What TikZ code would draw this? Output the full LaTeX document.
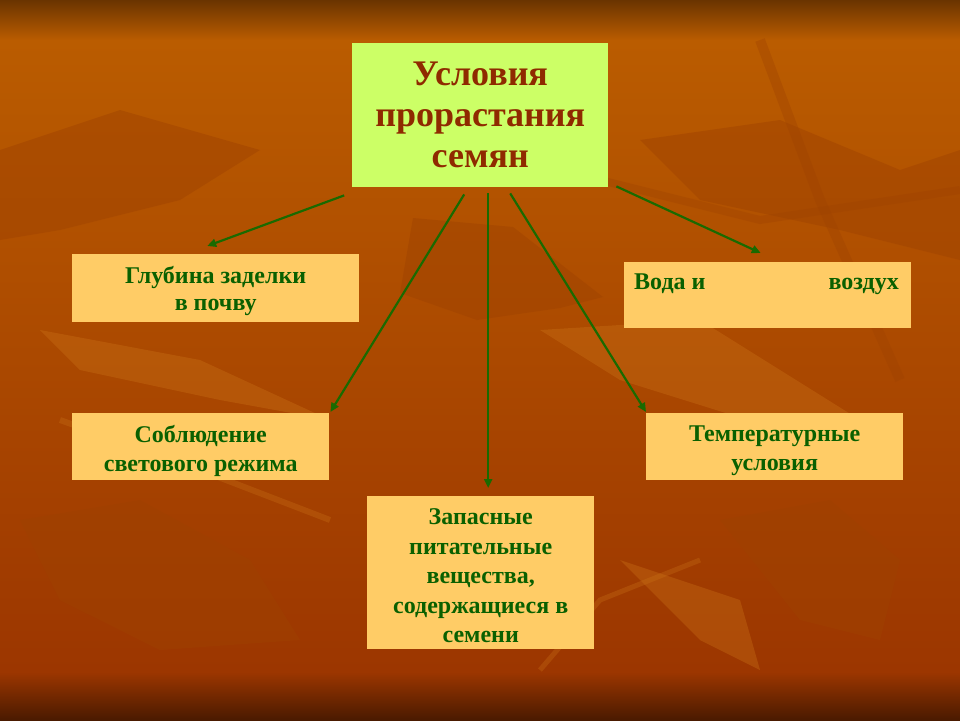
\documentclass[tikz,border=0pt]{standalone}
\usepackage{fontspec}
\setmainfont{Liberation Serif}
\usetikzlibrary{arrows.meta,calc}
\definecolor{bgtop}{HTML}{6A3400}
\definecolor{bgmid}{HTML}{BA5C00}
\definecolor{bglow}{HTML}{9C3600}
\definecolor{bgbot}{HTML}{4A1A00}
\definecolor{leafdark}{HTML}{9E4200}
\definecolor{leaflight}{HTML}{CC7418}
\definecolor{titlebg}{HTML}{CCFF66}
\definecolor{titletxt}{HTML}{8F2A00}
\definecolor{boxbg}{HTML}{FFCC66}
\definecolor{boxtxt}{HTML}{0A6000}
\definecolor{arrowcol}{HTML}{1A6A00}
\tikzset{
  titlebox/.style={fill=titlebg, draw=none, inner sep=0pt, anchor=north west, align=center,
    text=titletxt, font=\fontsize{36}{41}\selectfont\bfseries},
  infobox/.style={fill=boxbg, draw=none, inner sep=0pt, anchor=north west},
  boxtext/.style={inner sep=0pt, align=center, text=boxtxt, font=\fontsize{24}{#1}\selectfont\bfseries},
  boxtext/.default=27,
  arr/.style={draw=arrowcol, line width=2.2pt, -{Triangle[length=9pt,width=8pt]}},
  leafA/.style={fill=leafdark, opacity=0.45, draw=none},
  leafB/.style={fill=leaflight, opacity=0.35, draw=none}
}
\begin{document}
\begin{tikzpicture}[x=1pt,y=-1pt]
% background
\useasboundingbox (0,0) rectangle (960,720);
\shade[top color=bgtop, bottom color=bgmid] (0,0) rectangle (960,40);
\shade[top color=bgmid, bottom color=bglow] (0,40) rectangle (960,672);
\shade[top color=bglow, bottom color=bgbot] (0,672) rectangle (960,720);
% faint leaf shapes
\fill[leafA] (413,218) -- (513,227) -- (603,297) -- (560,308) -- (477,320) -- (400,293) -- cycle;
\fill[leafA] (0,150) -- (120,110) -- (260,150) -- (180,200) -- (60,230) -- (0,240) -- cycle;
\fill[leafA] (640,140) -- (780,120) -- (900,170) -- (960,150) -- (960,260) -- (840,230) -- (700,200) -- cycle;
\fill[leafA] (20,520) -- (140,500) -- (250,560) -- (300,640) -- (160,650) -- (60,600) -- cycle;
\fill[leafA] (720,520) -- (830,500) -- (900,560) -- (880,640) -- (800,620) -- cycle;
\fill[leafB] (540,330) -- (700,320) -- (860,420) -- (780,430) -- (620,380) -- cycle;
\fill[leafB] (40,330) -- (200,360) -- (330,420) -- (220,400) -- (80,370) -- cycle;
\fill[leafB] (620,560) -- (740,600) -- (760,670) -- (700,640) -- cycle;
\draw[draw=leafdark, line width=10pt, opacity=0.35] (760,40) -- (820,200) -- (900,380);
\draw[draw=leafdark, line width=8pt, opacity=0.35] (600,180) -- (760,220) -- (960,190);
\draw[draw=leaflight, line width=6pt, opacity=0.3] (60,420) -- (200,470) -- (330,520);
\draw[draw=leaflight, line width=5pt, opacity=0.3] (540,670) -- (600,600) -- (700,560);
% boxes
\node[titlebox, minimum width=256pt, minimum height=144pt, text width=256pt] (top) at (352,43)
  {Условия\\прорастания\\семян};
\node[infobox, minimum width=287pt, minimum height=68pt] (glub) at (72,254) {};
\node[infobox, minimum width=287pt, minimum height=66pt] (voda) at (624,262) {};
\node[infobox, minimum width=257pt, minimum height=67pt] (sobl) at (72,413) {};
\node[infobox, minimum width=257pt, minimum height=67pt] (temp) at (646,413) {};
\node[infobox, minimum width=227pt, minimum height=153pt] (zap) at (367,496) {};
% texts
\node[boxtext] (glubT) at ([yshift=-3pt]glub.center) {Глубина заделки\\в почву};
\node[boxtext, anchor=base west] (vodaL) at (634,289) {Вода и};
\node[boxtext, anchor=base east] (vodaR) at (899,289) {воздух};
\node[boxtext=29] (soblT) at ([yshift=-4pt]sobl.center) {Соблюдение\\светового режима};
\node[boxtext=29] (tempT) at ([yshift=-4pt]temp.center) {Температурные\\условия};
\node[boxtext=29.5] (zapT) at ([yshift=-3pt]zap.center)
  {Запасные\\питательные\\вещества,\\содержащиеся в\\семени};
% arrows
\draw[arr] ([xshift=-136pt,yshift=-8pt]top.south) -- ([xshift=-8.5pt,yshift=8pt]glub.north);
\draw[arr] ([xshift=-16pt,yshift=-7pt]top.south) -- ([xshift=1pt,yshift=1pt]sobl.north east);
\coordinate (c3) at ([xshift=8pt,yshift=-6pt]top.south);
\draw[arr] (c3) -- ([yshift=8pt]zap.north -| c3);
\draw[arr] ([xshift=30pt,yshift=-6pt]top.south) -- ([yshift=1pt]temp.north west);
\draw[arr] ([xshift=8pt,yshift=1pt]top.south east) -- ([xshift=-7pt,yshift=9pt]voda.north);
\end{tikzpicture}
\end{document}
